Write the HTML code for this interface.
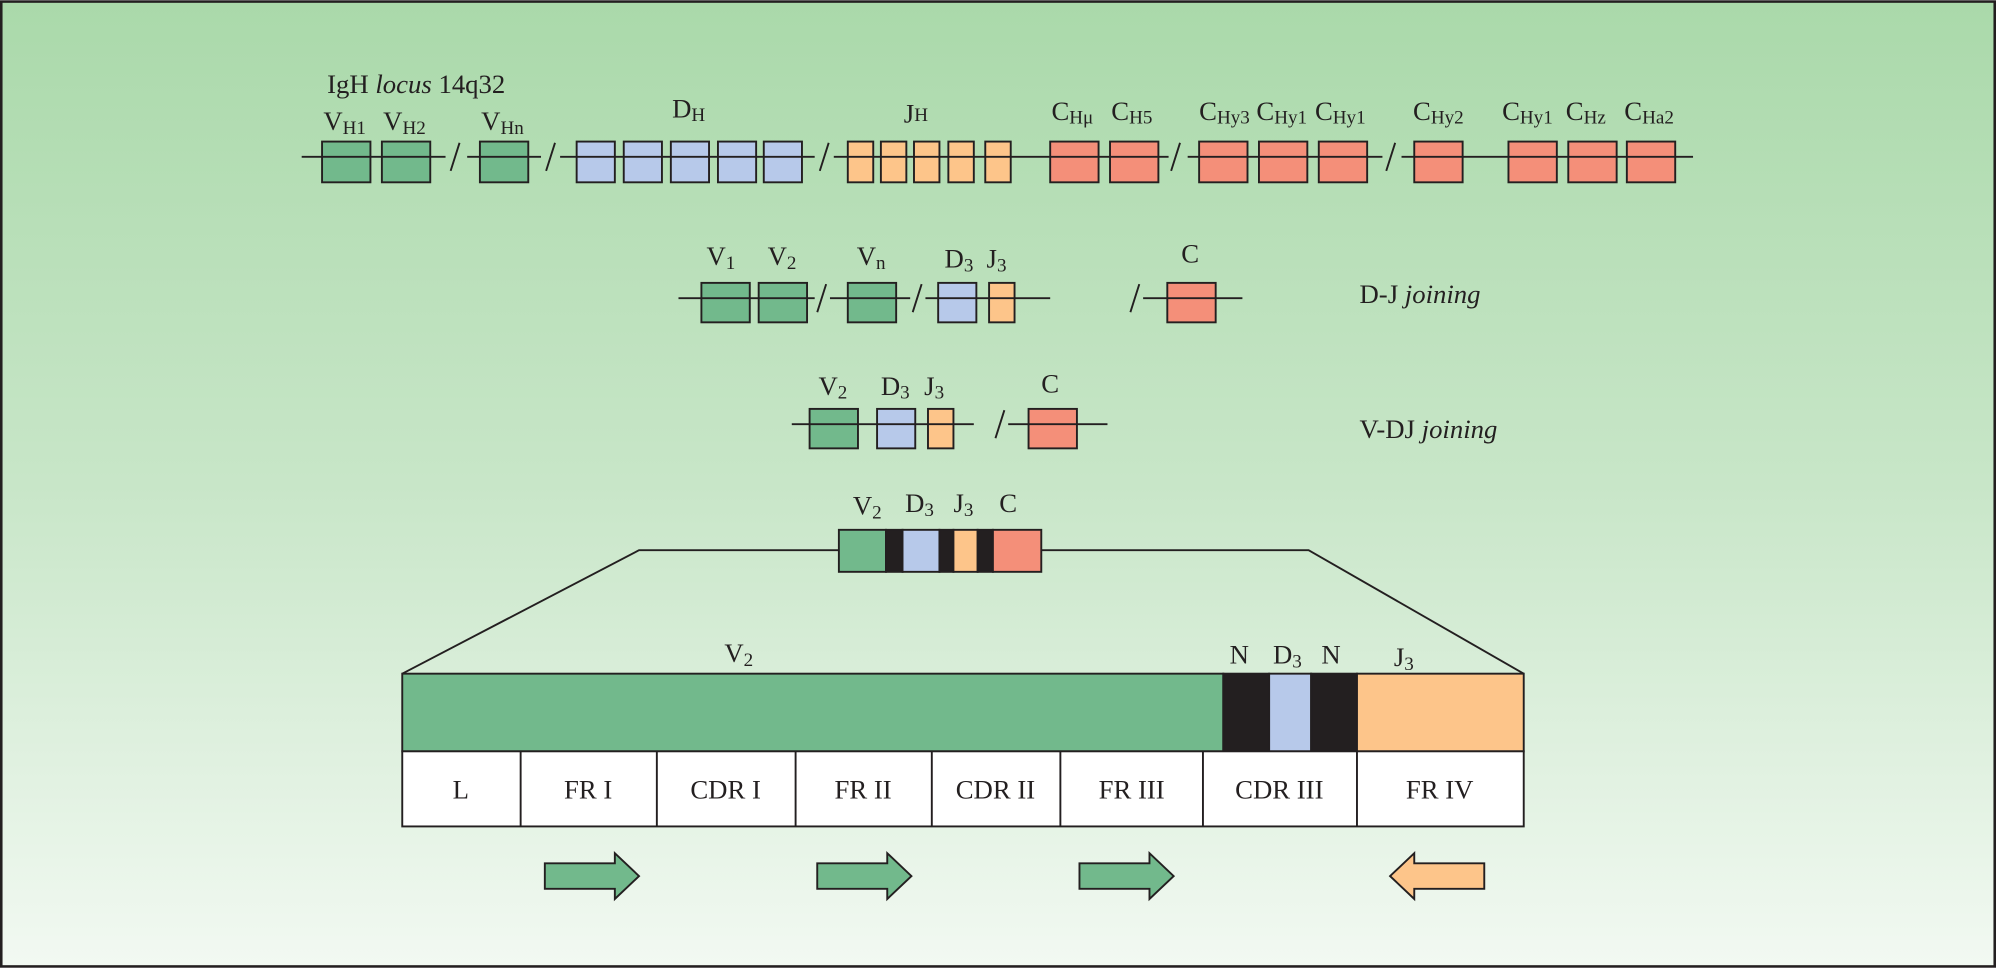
<!DOCTYPE html>
<html><head><meta charset="utf-8"><style>
html,body{margin:0;padding:0;width:1996px;height:968px;overflow:hidden}
svg{display:block}
text{font-family:"Liberation Serif",serif;font-size:21px;fill:#231f20}
.s{font-size:15px}
</style></head><body>
<svg width="1996" height="968" viewBox="0 0 1568 760" xmlns="http://www.w3.org/2000/svg">
<defs><linearGradient id="bg" x1="0" y1="0" x2="0" y2="1">
<stop offset="0" stop-color="#aad9aa"/><stop offset="0.5" stop-color="#c8e6c8"/><stop offset="1" stop-color="#f2f9f2"/></linearGradient></defs>
<rect x="1" y="1" width="1566" height="758" fill="url(#bg)" stroke="#231f20" stroke-width="2"/>
<g stroke="#231f20" stroke-width="1.5">
<g fill="#72b98c"><rect x="253" y="111" width="38" height="32"/><rect x="300" y="111" width="38" height="32"/><rect x="377" y="111" width="38" height="32"/></g>
<g fill="#b7c9ea"><rect x="453" y="111" width="30" height="32"/><rect x="490" y="111" width="30" height="32"/><rect x="527" y="111" width="30" height="32"/><rect x="564" y="111" width="30" height="32"/><rect x="600" y="111" width="30" height="32"/></g>
<g fill="#fdc58a"><rect x="666" y="111" width="20" height="32"/><rect x="692" y="111" width="20" height="32"/><rect x="718" y="111" width="20" height="32"/><rect x="745" y="111" width="20" height="32"/><rect x="774" y="111" width="20" height="32"/></g>
<g fill="#f48f79"><rect x="825" y="111" width="38" height="32"/><rect x="872" y="111" width="38" height="32"/><rect x="942" y="111" width="38" height="32"/><rect x="989" y="111" width="38" height="32"/><rect x="1036" y="111" width="38" height="32"/><rect x="1111" y="111" width="38" height="32"/><rect x="1185" y="111" width="38" height="32"/><rect x="1232" y="111" width="38" height="32"/><rect x="1278" y="111" width="38" height="32"/></g>
<path d="M237 123H350M367 123H425M440 123H640M655 123H918M933 123H1086M1101 123H1330" fill="none"/>
<path d="M354 134L361 112M429 134L436 112M644 134L651 112M920 134L927 112M1089 134L1096 112" fill="none"/>
<g fill="#72b98c"><rect x="551" y="222" width="38" height="31"/><rect x="596" y="222" width="38" height="31"/><rect x="666" y="222" width="38" height="31"/></g>
<rect x="737" y="222" width="30" height="31" fill="#b7c9ea"/><rect x="777" y="222" width="20" height="31" fill="#fdc58a"/><rect x="917" y="222" width="38" height="31" fill="#f48f79"/>
<path d="M533 234H640M652 234H715M727 234H825M898 234H976" fill="none"/>
<path d="M642 245L649 223M717 245L724 223M888 245L895 223" fill="none"/>
<rect x="636" y="321" width="38" height="31" fill="#72b98c"/><rect x="689" y="321" width="30" height="31" fill="#b7c9ea"/><rect x="729" y="321" width="20" height="31" fill="#fdc58a"/><rect x="808" y="321" width="38" height="31" fill="#f48f79"/>
<path d="M622 333H765M792 333H870" fill="none"/>
<path d="M782 344L789 322" fill="none"/>
<rect x="659" y="416" width="37" height="33" fill="#72b98c"/><rect x="696" y="416" width="13" height="33" fill="#231f20"/><rect x="709" y="416" width="29" height="33" fill="#b7c9ea"/><rect x="738" y="416" width="11" height="33" fill="#231f20"/><rect x="749" y="416" width="19" height="33" fill="#fdc58a"/><rect x="768" y="416" width="12" height="33" fill="#231f20"/><rect x="780" y="416" width="38" height="33" fill="#f48f79"/>
<path d="M659 432H502L316 529M818 432H1028L1197 529" fill="none"/>
<rect x="316" y="529" width="645" height="61" fill="#72b98c"/><rect x="961" y="529" width="36" height="61" fill="#231f20"/><rect x="997" y="529" width="33" height="61" fill="#b7c9ea"/><rect x="1030" y="529" width="36" height="61" fill="#231f20"/><rect x="1066" y="529" width="131" height="61" fill="#fdc58a"/>
<rect x="316" y="590" width="881" height="59" fill="#fff"/>
<path d="M409 590V649M516 590V649M625 590V649M732 590V649M833 590V649M945 590V649M1066 590V649" fill="none"/>
<path d="M428 678H483V670L502 688L483 706V698H428Z" fill="#72b98c"/>
<path d="M642 678H697V670L716 688L697 706V698H642Z" fill="#72b98c"/>
<path d="M848 678H903V670L922 688L903 706V698H848Z" fill="#72b98c"/>
<path d="M1166 678H1111V670L1092 688L1111 706V698H1166Z" fill="#fdc58a"/>
</g>
<text x="257" y="73">IgH <tspan font-style="italic">locus</tspan> 14q32</text>
<text x="254" y="102">V<tspan class="s" dy="3">H1</tspan></text>
<text x="301" y="102">V<tspan class="s" dy="3">H2</tspan></text>
<text x="378" y="102">V<tspan class="s" dy="3">Hn</tspan></text>
<text x="528" y="92">D<tspan class="s" dy="3">H</tspan></text>
<text x="710" y="96">J<tspan class="s" dy="-1">H</tspan></text>
<text x="826" y="94">C<tspan class="s" dy="3">Hμ</tspan></text>
<text x="873" y="94">C<tspan class="s" dy="3">H5</tspan></text>
<text x="942" y="94">C<tspan class="s" dy="3">Hy3</tspan></text>
<text x="987" y="94">C<tspan class="s" dy="3">Hy1</tspan></text>
<text x="1033" y="94">C<tspan class="s" dy="3">Hy1</tspan></text>
<text x="1110" y="94">C<tspan class="s" dy="3">Hy2</tspan></text>
<text x="1180" y="94">C<tspan class="s" dy="3">Hy1</tspan></text>
<text x="1230" y="94">C<tspan class="s" dy="3">Hz</tspan></text>
<text x="1276" y="94">C<tspan class="s" dy="3">Ha2</tspan></text>
<text x="555" y="208">V<tspan class="s" dy="3">1</tspan></text>
<text x="603" y="208">V<tspan class="s" dy="3">2</tspan></text>
<text x="673" y="208">V<tspan class="s" dy="3">n</tspan></text>
<text x="742" y="210">D<tspan class="s" dy="3">3</tspan></text>
<text x="775" y="210">J<tspan class="s" dy="3">3</tspan></text>
<text x="928" y="206">C</text>
<text x="1068" y="238">D-J <tspan font-style="italic">joining</tspan></text>
<text x="643" y="310">V<tspan class="s" dy="3">2</tspan></text>
<text x="692" y="310">D<tspan class="s" dy="3">3</tspan></text>
<text x="726" y="310">J<tspan class="s" dy="3">3</tspan></text>
<text x="818" y="308">C</text>
<text x="1068" y="344">V-DJ <tspan font-style="italic">joining</tspan></text>
<text x="670" y="404">V<tspan class="s" dy="3">2</tspan></text>
<text x="711" y="402">D<tspan class="s" dy="3">3</tspan></text>
<text x="749" y="402">J<tspan class="s" dy="3">3</tspan></text>
<text x="785" y="402">C</text>
<text x="569" y="520">V<tspan class="s" dy="3">2</tspan></text>
<text x="966" y="521">N</text>
<text x="1000" y="521">D<tspan class="s" dy="3">3</tspan></text>
<text x="1038" y="521">N</text>
<text x="1095" y="523">J<tspan class="s" dy="3">3</tspan></text>
<g text-anchor="middle">
<text x="362" y="627">L</text><text x="462" y="627">FR I</text><text x="570" y="627">CDR I</text><text x="678" y="627">FR II</text><text x="782" y="627">CDR II</text><text x="889" y="627">FR III</text><text x="1005" y="627">CDR III</text><text x="1131" y="627">FR IV</text>
</g>
</svg>
</body></html>
